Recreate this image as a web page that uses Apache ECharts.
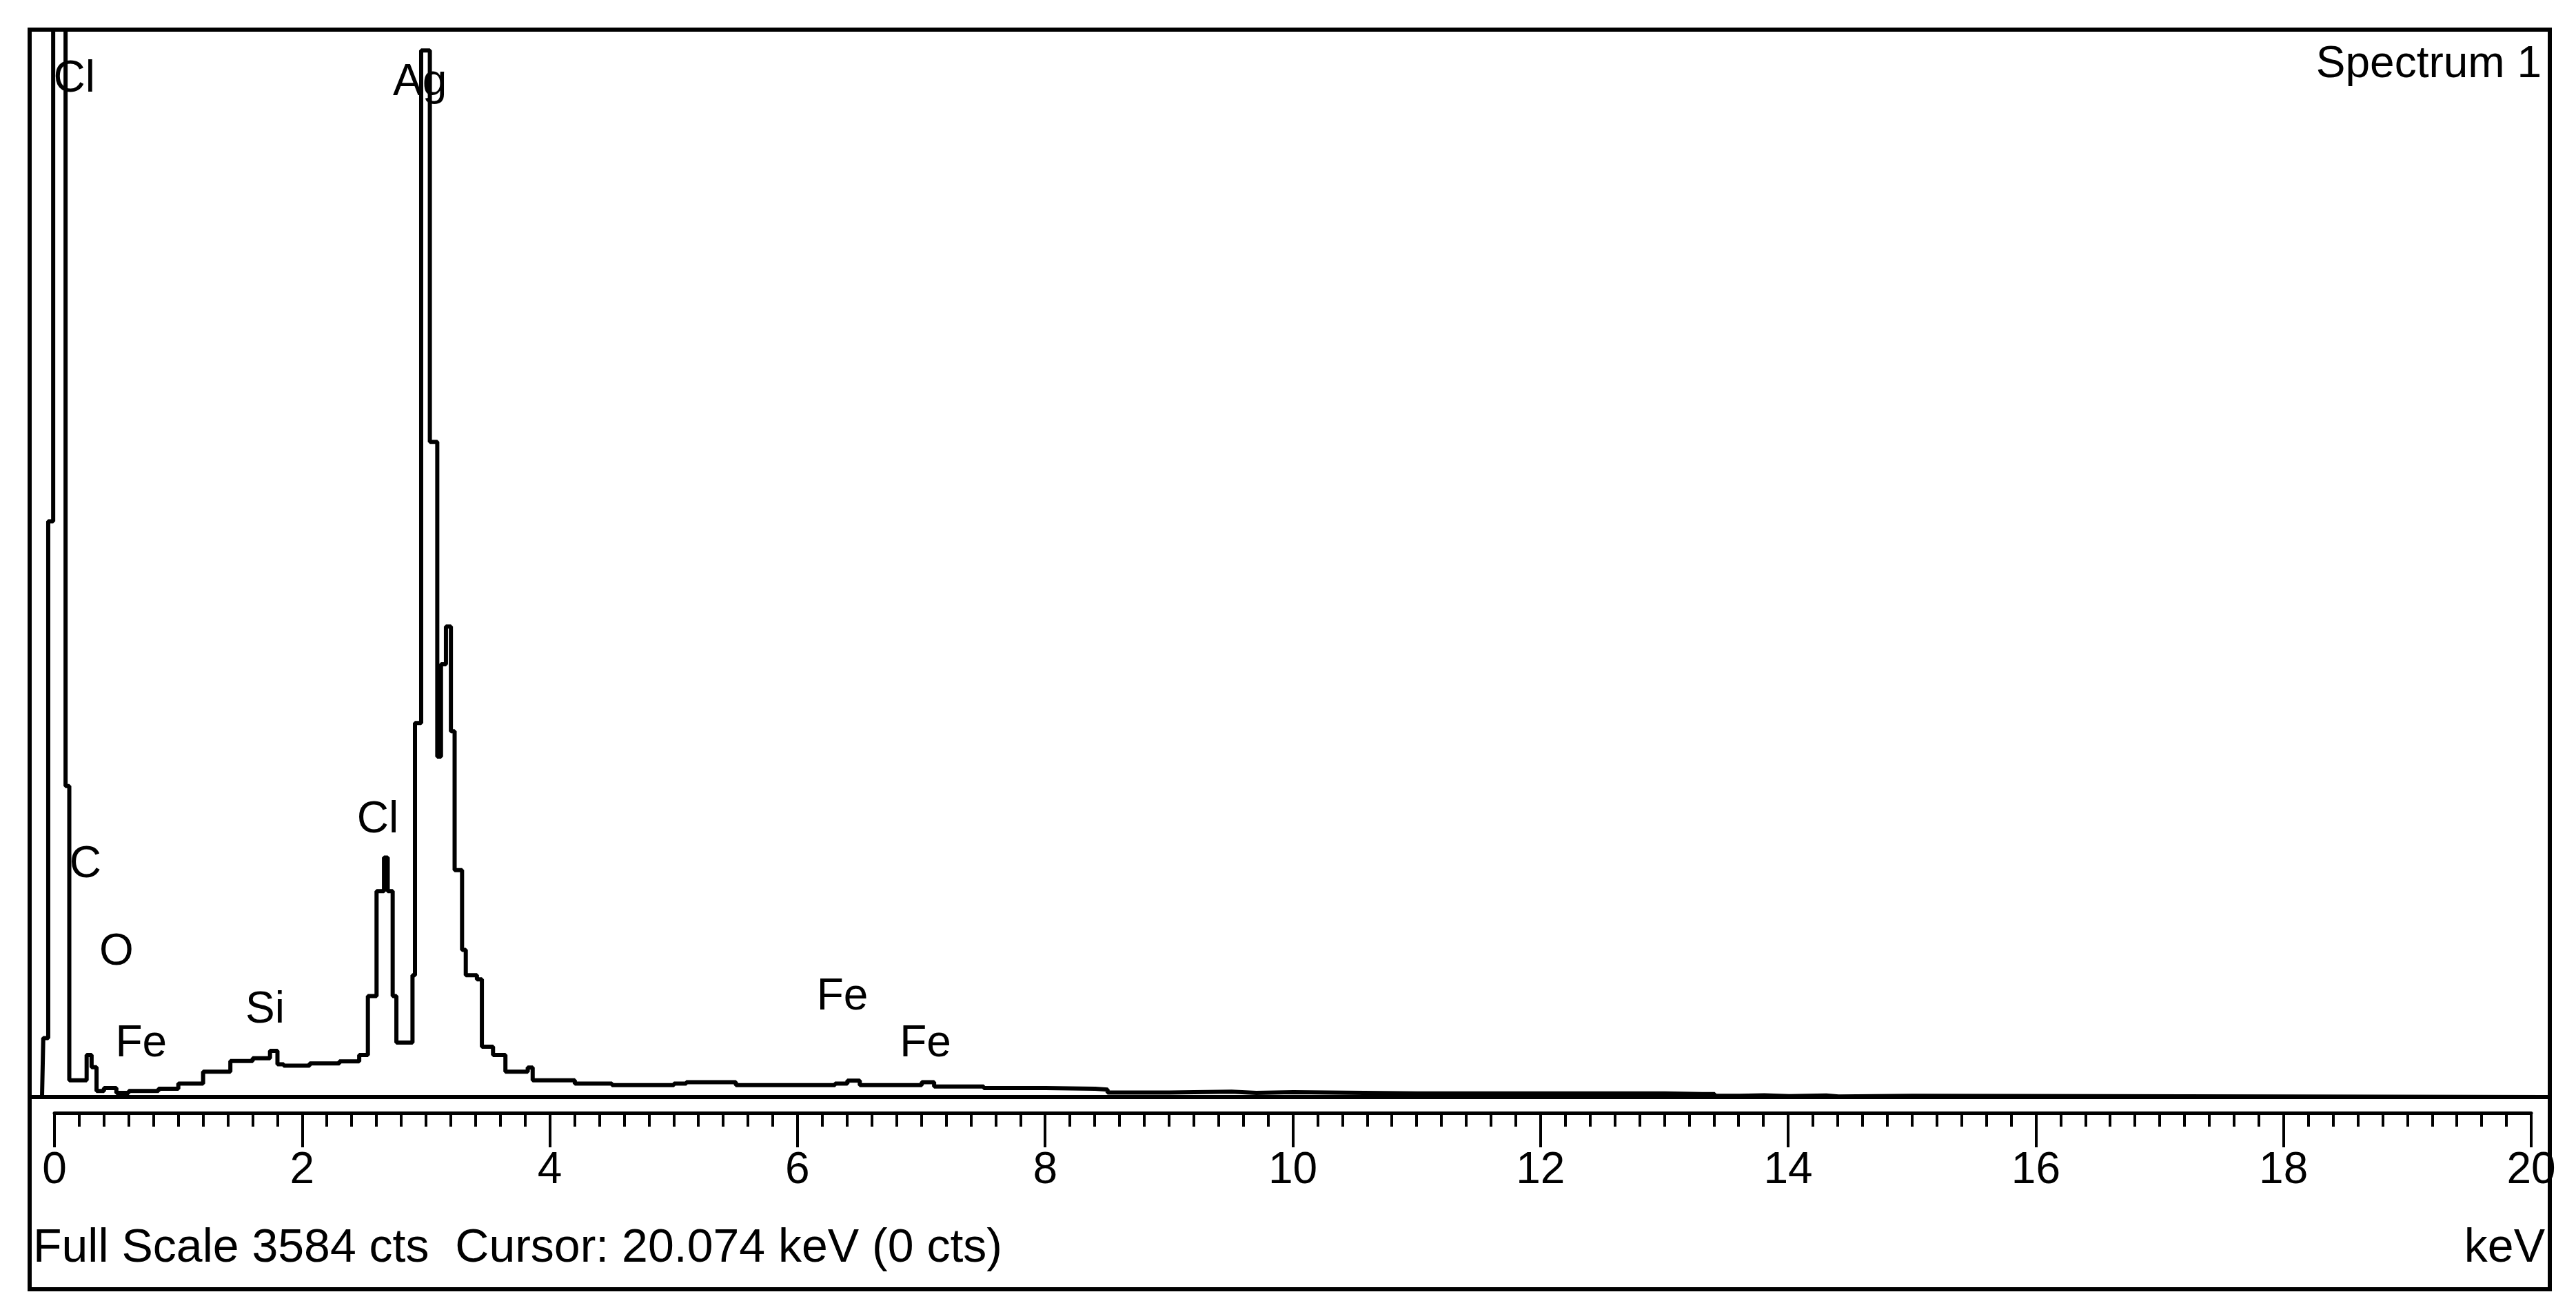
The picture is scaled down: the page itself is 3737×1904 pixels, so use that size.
<!DOCTYPE html>
<html><head><meta charset="utf-8">
<script src="https://cdn.jsdelivr.net/npm/echarts@6/dist/echarts.min.js"></script>
<style>html,body{margin:0;background:#fff}#c{width:3737px;height:1904px}</style>
</head><body><div id="c"></div>
<script>
const energy = [-0.1,-0.09,-0.05,-0.01,0.09,0.12,0.2,0.26,0.3,0.34,0.4,0.5,0.6,0.84,1.0,1.2,1.42,1.6,1.74,1.8,1.85,2.06,2.3,2.46,2.53,2.6,2.66,2.69,2.73,2.76,2.84,2.89,2.91,2.96,3.03,3.09,3.12,3.16,3.2,3.23,3.29,3.32,3.41,3.45,3.54,3.64,3.82,3.86,4.2,4.5,5.0,5.1,5.5,6.0,6.3,6.4,6.5,6.9,7.0,7.1,7.5,8.0,8.4,8.5,9.0,9.5,9.7,10.0,11.0,12.0,13.0,13.3,13.4,13.6,13.8,14.0,14.3,14.4,15,20.1];
const counts = [0,198,1933,5000,1044,56,56,141,100,20,30,14,20,28,45,85,121,130,155,110,105,113,120,141,339,691,804,691,339,183,183,409,1256,3514,2200,1143,1453,1580,1228,762,494,409,395,169,141,85,99,56,45,40,45,50,40,40,45,55,40,40,50,35,30,28,25,15,18,14,16,12,12,12,10,10,4,6,3,5,2,4,0,0];
const peakLabels = ['Cl','Ag','C','O','Fe','Si','Cl','Fe','Fe'];
const peakX = [0.16,2.95,0.25,0.5,0.7,1.7,2.61,6.36,7.03];
const peakY = [3417,3406,779,484,178,290,930,334,178];
const ticks = [0,2,4,6,8,10,12,14,16,18,20];
const font = '"Liberation Sans Narrow","Liberation Sans",Arial,sans-serif';
const chart = echarts.init(document.getElementById('c'));
chart.setOption({
  animation:false,
  grid:[{left:43,right:38,top:43,bottom:312,show:true,borderColor:'#000',borderWidth:6},
        {left:79,right:65,top:1614,height:1}],
  xAxis:[{gridIndex:0,type:'value',min:-0.2,max:20.14,show:false},
         {gridIndex:1,type:'value',min:0,max:20,interval:2,
          axisLine:{show:true,lineStyle:{color:'#000',width:5}},
          axisTick:{show:true,length:50,lineStyle:{color:'#000',width:4}},
          minorTick:{show:true,splitNumber:10,length:20,lineStyle:{color:'#000',width:4}},
          splitLine:{show:false},
          axisLabel:{margin:52,fontSize:64,color:'#000',fontFamily:font,
            formatter:v=>ticks.includes(v)?String(v):''}}],
  yAxis:[{gridIndex:0,type:'value',min:0,max:3584,show:false},
         {gridIndex:1,type:'value',show:false}],
  series:[{type:'line',xAxisIndex:0,yAxisIndex:0,step:'end',symbol:'none',clip:true,
    lineStyle:{color:'#000',width:6},
    data:energy.map((e,i)=>[e,counts[i]]),
    markPoint:{symbolSize:0,silent:true,
      label:{show:true,fontSize:64,color:'#000',fontFamily:font,formatter:p=>p.name},
      data:peakLabels.map((n,i)=>({name:n,coord:[peakX[i],peakY[i]]}))}}],
  graphic:[
    {type:'rect',shape:{x:43,y:43,width:3656,height:1828},style:{fill:'none',stroke:'#000',lineWidth:6}},
    {type:'text',right:50,top:62,style:{text:'Spectrum 1',fontSize:64,fontFamily:font,fill:'#000'}},
    {type:'text',left:48,top:1778,style:{text:'Full Scale 3584 cts  Cursor: 20.074 keV (0 cts)',fontSize:68,fontFamily:font,fill:'#000'}},
    {type:'text',right:45,top:1778,style:{text:'keV',fontSize:68,fontFamily:font,fill:'#000'}}
  ]
});
</script></body></html>
